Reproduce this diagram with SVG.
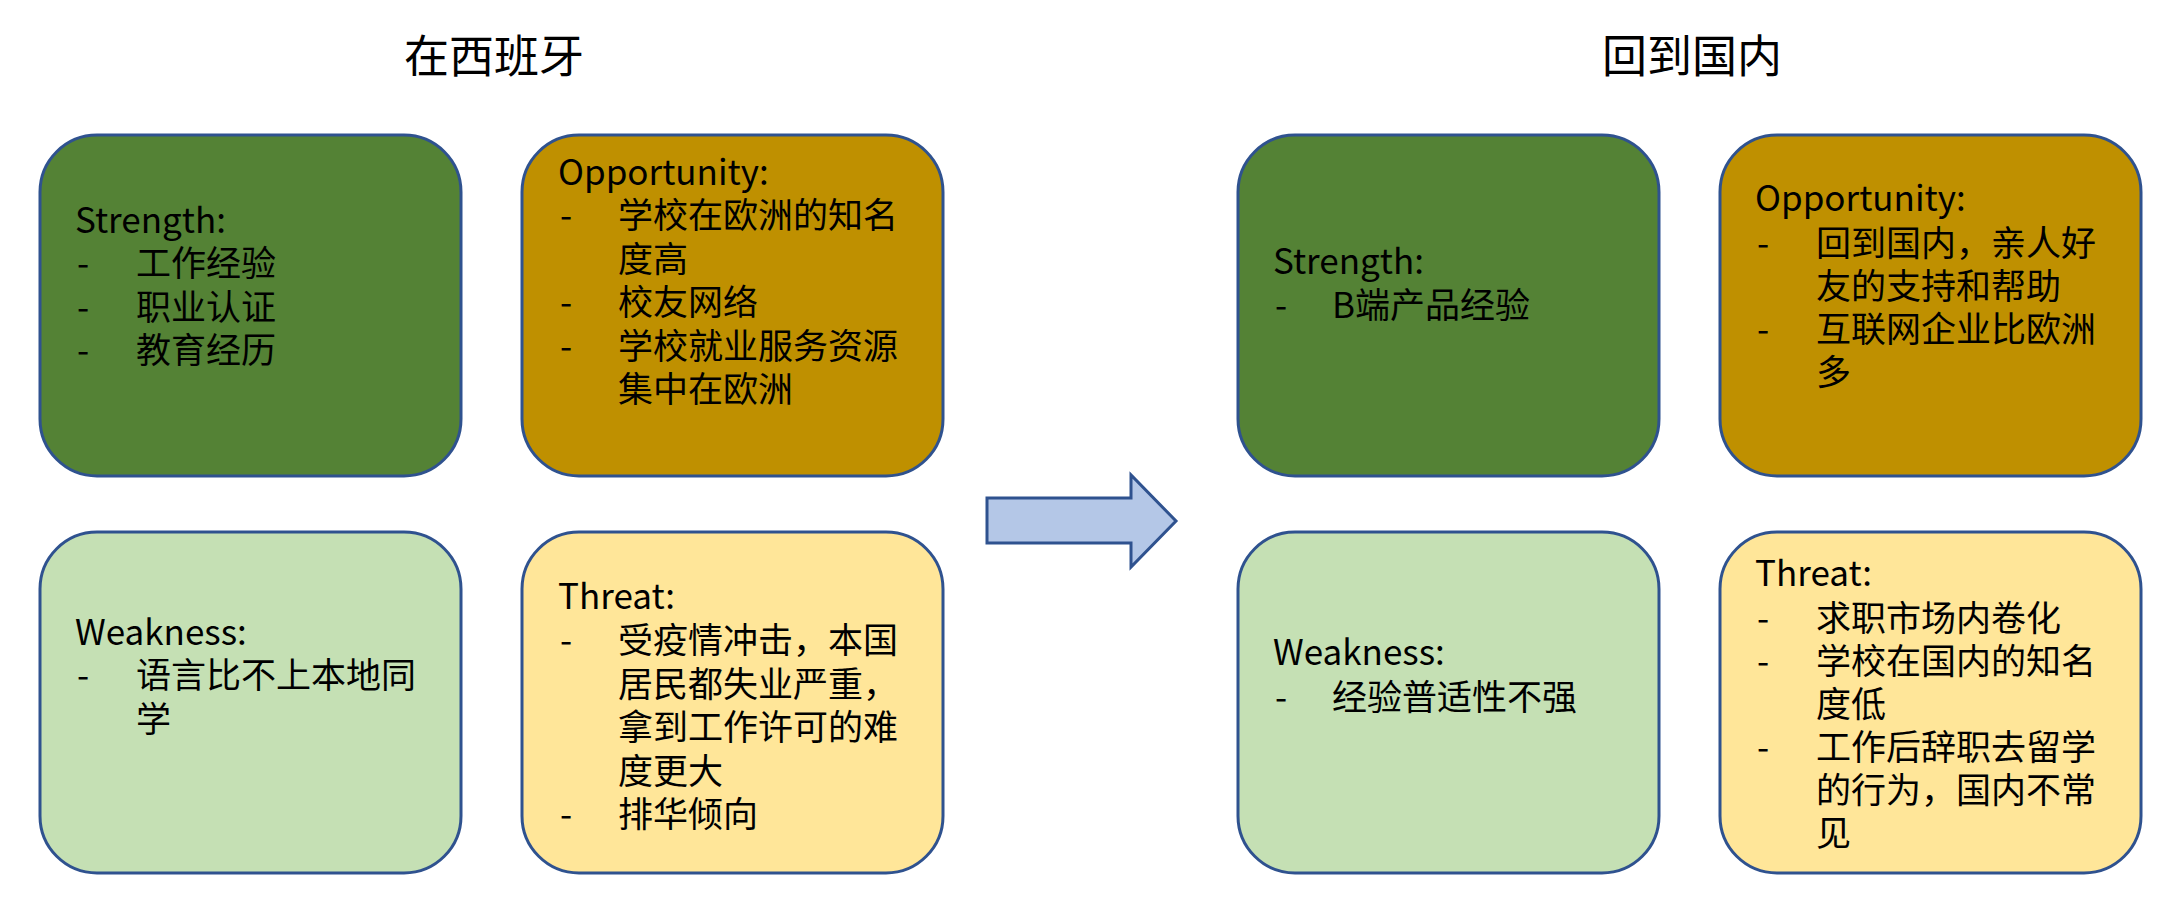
<svg xmlns="http://www.w3.org/2000/svg" width="2178" height="916" viewBox="0 0 2178 916">
<style>
.box{stroke:#2F528F;stroke-width:3}
.s{fill:#548235}.o{fill:#BF9000}.w{fill:#C5E0B4}.t{fill:#FFE699}
text{font-family:"Noto Sans CJK SC","Noto Sans",sans-serif;fill:#000}
.ttl{font-size:45px;text-anchor:middle}
.b{font-size:35px}
</style>
<rect width="2178" height="916" fill="#fff"/>
<text class="ttl" x="494" y="73">在西班牙</text>
<text class="ttl" x="1692" y="73">回到国内</text>

<g id="l-strength">
<rect class="box s" x="40" y="135" width="421" height="341" rx="57"/>
<text class="b" x="75" y="232.5">Strength:</text>
<text class="b" y="276"><tspan x="77">-</tspan><tspan x="136">工作经验</tspan></text>
<text class="b" y="319.5"><tspan x="77">-</tspan><tspan x="136">职业认证</tspan></text>
<text class="b" y="363"><tspan x="77">-</tspan><tspan x="136">教育经历</tspan></text>
</g>

<g id="l-opportunity">
<rect class="box o" x="522" y="135" width="421" height="341" rx="57"/>
<text class="b" x="558" y="184.5">Opportunity:</text>
<text class="b" y="228"><tspan x="560">-</tspan><tspan x="618">学校在欧洲的知名</tspan></text>
<text class="b" x="618" y="271.5">度高</text>
<text class="b" y="315"><tspan x="560">-</tspan><tspan x="618">校友网络</tspan></text>
<text class="b" y="358.5"><tspan x="560">-</tspan><tspan x="618">学校就业服务资源</tspan></text>
<text class="b" x="618" y="402">集中在欧洲</text>
</g>

<g id="l-weakness">
<rect class="box w" x="40" y="532" width="421" height="341" rx="57"/>
<text class="b" x="75" y="644.5">Weakness:</text>
<text class="b" y="688"><tspan x="77">-</tspan><tspan x="136">语言比不上本地同</tspan></text>
<text class="b" x="136" y="731.5">学</text>
</g>

<g id="l-threat">
<rect class="box t" x="522" y="532" width="421" height="341" rx="57"/>
<text class="b" x="558" y="609">Threat:</text>
<text class="b" y="653"><tspan x="560">-</tspan><tspan x="618">受疫情冲击，本国</tspan></text>
<text class="b" x="618" y="696.5">居民都失业严重，</text>
<text class="b" x="618" y="740">拿到工作许可的难</text>
<text class="b" x="618" y="783.5">度更大</text>
<text class="b" y="827"><tspan x="560">-</tspan><tspan x="618">排华倾向</tspan></text>
</g>

<g id="r-strength">
<rect class="box s" x="1238" y="135" width="421" height="341" rx="57"/>
<text class="b" x="1273" y="274">Strength:</text>
<text class="b" y="318"><tspan x="1275">-</tspan><tspan x="1332">B端产品经验</tspan></text>
</g>

<g id="r-opportunity">
<rect class="box o" x="1720" y="135" width="421" height="341" rx="57"/>
<text class="b" x="1755" y="211">Opportunity:</text>
<text class="b" y="256"><tspan x="1757">-</tspan><tspan x="1816">回到国内，亲人好</tspan></text>
<text class="b" x="1816" y="299">友的支持和帮助</text>
<text class="b" y="342"><tspan x="1757">-</tspan><tspan x="1816">互联网企业比欧洲</tspan></text>
<text class="b" x="1816" y="385">多</text>
</g>

<g id="r-weakness">
<rect class="box w" x="1238" y="532" width="421" height="341" rx="57"/>
<text class="b" x="1273" y="665">Weakness:</text>
<text class="b" y="710"><tspan x="1275">-</tspan><tspan x="1332">经验普适性不强</tspan></text>
</g>

<g id="r-threat">
<rect class="box t" x="1720" y="532" width="421" height="341" rx="57"/>
<text class="b" x="1755" y="586">Threat:</text>
<text class="b" y="631"><tspan x="1757">-</tspan><tspan x="1816">求职市场内卷化</tspan></text>
<text class="b" y="674"><tspan x="1757">-</tspan><tspan x="1816">学校在国内的知名</tspan></text>
<text class="b" x="1816" y="717">度低</text>
<text class="b" y="760"><tspan x="1757">-</tspan><tspan x="1816">工作后辞职去留学</tspan></text>
<text class="b" x="1816" y="803">的行为，国内不常</text>
<text class="b" x="1816" y="846">见</text>
</g>

<g id="connectors">
<polygon points="987,498 1131,498 1131,475 1176,521 1131,567 1131,543 987,543" fill="#B4C7E7" stroke="#2F528F" stroke-width="3"/>
</g>
</svg>
